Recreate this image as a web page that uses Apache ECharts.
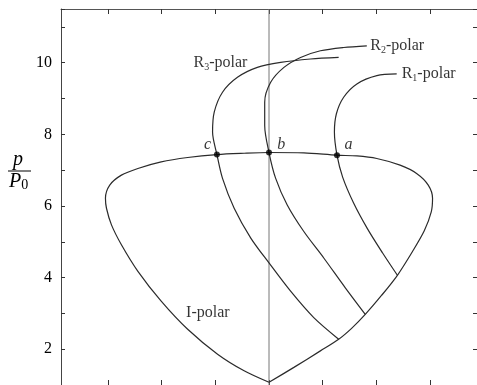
<!DOCTYPE html>
<html>
<head>
<meta charset="utf-8">
<script src="https://cdn.jsdelivr.net/npm/echarts@6/dist/echarts.min.js"></script>
<style>
  html, body { margin: 0; padding: 0; background: #fff; }
  #chart { width: 477px; height: 385px; }
</style>
</head>
<body>
<div id="chart"></div>
<script>
// curve data (x: arbitrary units, 0 = centre line; y: p/p0)
const iPolar = [
  [0, 1.075], [0.463, 1.492], [0.956, 1.953], [1.296, 2.278], [1.537, 2.583], [1.791, 2.972],
  [2.093, 3.5], [2.389, 4.064], [2.667, 4.722], [2.889, 5.306], [3.019, 5.833], [3.043, 6.214],
  [2.963, 6.583], [2.746, 6.908], [2.439, 7.139], [2.006, 7.325], [1.635, 7.397], [1.265, 7.417],
  [0.648, 7.481], [0, 7.492], [-0.463, 7.472], [-0.969, 7.436], [-1.513, 7.353], [-2.006, 7.231],
  [-2.439, 7.047], [-2.746, 6.861], [-2.963, 6.583], [-3.043, 6.214], [-3.024, 5.936],
  [-2.931, 5.472], [-2.746, 4.917], [-2.439, 4.175], [-2.006, 3.342], [-1.513, 2.556],
  [-0.957, 1.861], [-0.463, 1.397], [0, 1.075]
];
const r1Polar = [
  [2.376, 9.686], [2.006, 9.639], [1.635, 9.408], [1.389, 9.036], [1.254, 8.575], [1.217, 8.064],
  [1.265, 7.417], [1.370, 6.806], [1.574, 6.083], [1.833, 5.361], [2.111, 4.694], [2.389, 4.064]
];
const r2Polar = [
  [1.820, 10.472], [1.389, 10.425], [0.957, 10.333], [0.587, 10.147], [0.278, 9.869],
  [0.031, 9.453], [-0.080, 8.897], [-0.080, 8.25], [0, 7.492], [0.124, 6.769], [0.339, 6.028],
  [0.648, 5.286], [1.019, 4.547], [1.420, 3.714], [1.791, 2.972]
];
const r3Polar = [
  [1.296, 10.147], [0.772, 10.103], [0.217, 10.008], [-0.217, 9.869], [-0.587, 9.592],
  [-0.865, 9.175], [-1.019, 8.619], [-1.050, 8.064], [-0.969, 7.436], [-0.865, 6.769],
  [-0.648, 5.936], [-0.339, 5.103], [0, 4.408], [0.402, 3.619], [0.833, 2.881], [1.296, 2.278]
];
const centreLine = [[0, 1], [0, 11.5]];
const crossPoints = [[-0.969, 7.436], [0, 7.492], [1.265, 7.417]];
const pointLetters = ['c', 'b', 'a'];
const letterSpots = [[-1.143, 7.7], [0.228, 7.7], [1.481, 7.7]];
const curveNames = ['{r|R}{s|1}{r|-polar}', '{r|R}{s|2}{r|-polar}', '{r|R}{s|3}{r|-polar}', '{r|I-polar}'];
const nameSpots = [[2.469, 9.69], [1.883, 10.47], [-0.402, 10.0], [-1.543, 3.02]];
const xTicks = [-3, -2, -1, 0, 1, 2, 3];
const yLabels = [2, 4, 6, 8, 10];

const chart = echarts.init(document.getElementById('chart'));
const serif = '"Liberation Serif", "DejaVu Serif", serif';
const textColor = '#000';
const curveStyle = { color: '#2b2b2b', width: 1.2 };

const xAxisBase = {
  type: 'value', min: -3.87, max: 3.87,
  axisLine: { show: true, onZero: false, lineStyle: { color: '#555', width: 1 } },
  axisTick: { show: true, inside: true, length: 5, customValues: xTicks, lineStyle: { color: '#333' } },
  axisLabel: { show: false },
  splitLine: { show: false }
};
const yAxisBase = {
  type: 'value', min: 1, max: 11.5, interval: 1,
  axisLine: { show: true, onZero: false, lineStyle: { color: '#444', width: 1 } },
  axisTick: { show: true, inside: true, length: 4, lineStyle: { color: '#333' } },
  splitLine: { show: false }
};

const labelRich = {
  r: { fontFamily: serif, fontSize: 16, color: textColor },
  s: { fontFamily: serif, fontSize: 10, color: textColor, padding: [9, 0, 0, 0] }
};

const option = {
  animation: false,
  backgroundColor: '#fff',
  grid: { left: 61, top: 9, width: 418, height: 377 },
  xAxis: [
    Object.assign({}, xAxisBase, { position: 'bottom' }),
    Object.assign({}, xAxisBase, { position: 'top' })
  ],
  yAxis: [
    Object.assign({}, yAxisBase, {
      position: 'left',
      axisLabel: {
        show: true, margin: 9, fontFamily: serif, fontSize: 16, color: textColor,
        formatter: v => (yLabels.indexOf(v) >= 0 ? String(v) : '')
      }
    }),
    Object.assign({}, yAxisBase, { position: 'right', axisLabel: { show: false } })
  ],
  graphic: [
    { type: 'text', left: 13, top: 150, style: { text: 'p', font: 'italic 20px ' + serif, fill: textColor } },
    { type: 'line', shape: { x1: 8, y1: 171, x2: 31, y2: 171 }, style: { stroke: textColor, lineWidth: 1 } },
    {
      type: 'text', left: 9, top: 172,
      style: {
        text: '{p|P}{z|0}',
        rich: {
          p: { font: 'italic 20px ' + serif, fill: textColor },
          z: { font: '14px ' + serif, fill: textColor, padding: [6, 0, 0, 0] }
        }
      }
    }
  ],
  series: [
    { type: 'line', data: centreLine, showSymbol: false, lineStyle: { color: '#777', width: 1 }, z: 1 },
    { type: 'line', data: iPolar, smooth: 0.3, showSymbol: false, lineStyle: curveStyle },
    { type: 'line', data: r1Polar, smooth: 0.3, showSymbol: false, lineStyle: curveStyle },
    { type: 'line', data: r2Polar, smooth: 0.3, showSymbol: false, lineStyle: curveStyle },
    { type: 'line', data: r3Polar, smooth: 0.3, showSymbol: false, lineStyle: curveStyle },
    {
      type: 'scatter', data: crossPoints, symbolSize: 6,
      itemStyle: { color: '#000' }, z: 5
    },
    {
      type: 'scatter', symbolSize: 0,
      data: letterSpots.map((p, i) => ({ value: p, name: pointLetters[i] })),
      label: {
        show: true, position: [0, 0], align: 'center', verticalAlign: 'middle',
        formatter: p => p.name, fontFamily: serif, fontStyle: 'italic', fontSize: 16, color: textColor
      }
    },
    {
      type: 'scatter', symbolSize: 0,
      data: nameSpots.map((p, i) => ({
        value: p, name: curveNames[i],
        label: { align: i === 2 ? 'right' : 'left' }
      })),
      label: {
        show: true, position: [0, 0], verticalAlign: 'middle',
        formatter: p => p.name, rich: labelRich
      }
    }
  ]
};
chart.setOption(option);
</script>
</body>
</html>
